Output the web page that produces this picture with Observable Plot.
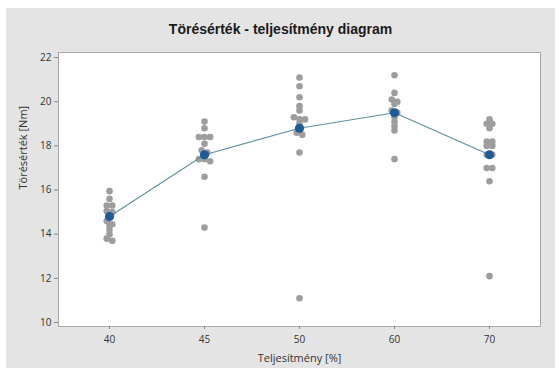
<!DOCTYPE html>
<html>
<head>
<meta charset="utf-8">
<script src="https://cdn.jsdelivr.net/npm/d3@7"></script>
<script src="https://cdn.jsdelivr.net/npm/@observablehq/plot@0.6"></script>
<style>
  html, body { margin: 0; padding: 0; background: #ffffff; }
  #panel { position: absolute; left: 6px; top: 8px; width: 549px; height: 360px; background: #e4e4e4; }
  #title { position: absolute; left: 0; top: 13px; width: 549px; text-align: center;
           font-family: "Liberation Sans", Arial, sans-serif; font-weight: bold; font-size: 14px; color: #1a1a1a; }
  #chart { position: absolute; left: 0; top: 36px; }
</style>
</head>
<body>
<div id="panel">
  <div id="title">Törésérték - teljesítmény diagram</div>
  <div id="chart"></div>
</div>
<script>
// Categories (Teljesítmény [%])
const categories = ["40", "45", "50", "60", "70"];
// Individual measured values (Törésérték [Nm]) per category
const v40 = [15.95, 15.6, 15.3, 15.3, 15.05, 15.0, 14.8, 14.6, 14.45, 14.4, 14.2, 14.0, 13.8, 13.7];
const v45 = [19.1, 18.8, 18.4, 18.4, 18.4, 18.1, 17.8, 17.7, 17.6, 17.4, 17.4, 17.3, 16.6, 14.3];
const v50 = [21.1, 20.7, 20.2, 19.8, 19.6, 19.3, 19.2, 19.2, 19.0, 18.6, 18.5, 17.7, 11.1];
const v60 = [21.2, 20.4, 20.1, 20.0, 19.9, 19.6, 19.5, 19.3, 19.1, 18.9, 18.7, 17.4];
const v70 = [19.2, 19.0, 19.0, 18.8, 18.2, 18.2, 18.0, 18.0, 17.6, 17.6, 17.0, 17.0, 16.4, 12.1];
// Means per category
const means = [14.8, 17.6, 18.8, 19.5, 17.6];
// Y tick labels
const yTicks = [10, 12, 14, 16, 18, 20, 22];

const groups = [v40, v45, v50, v60, v70];
const points = groups.flatMap((vals, i) => vals.map(v => ({power: categories[i], value: v})));
const meanData = categories.map((c, i) => ({power: c, mean: means[i]}));

// Minitab-like side-by-side placement of overlapping dots within a category
function dodgeRender(index, scales, values, dims, ctx, next) {
  const X = Float64Array.from(values.x), Y = values.y;
  const tol = 3.5, step = 5.6;
  const cols = d3.group(Array.from(index), i => Math.round(X[i]));
  for (const [, idx] of cols) {
    idx.sort((a, b) => Y[a] - Y[b]);
    const rows = [];
    let row = [];
    for (const i of idx) {
      if (row.length && Y[i] - Y[row[0]] > tol) { rows.push(row); row = []; }
      row.push(i);
    }
    if (row.length) rows.push(row);
    for (const r of rows) r.forEach((i, k) => { X[i] = X[i] + (k - (r.length - 1) / 2) * step; });
  }
  return next(index, scales, {...values, x: X}, dims, ctx);
}

const chart = Plot.plot({
  width: 549,
  height: 324,
  marginLeft: 52,
  marginRight: 15,
  marginTop: 8,
  marginBottom: 42,
  style: {background: "transparent", fontFamily: "'Open Sans', 'Noto Sans', sans-serif", fontSize: "10px", color: "#333"},
  x: {type: "point", domain: categories, padding: 0.52},
  y: {domain: [9.82, 22.23]},
  marks: [
    Plot.frame({fill: "white", stroke: "#a9a9a9"}),
    Plot.axisY({ticks: yTicks, tickSize: 4, tickPadding: 3, label: null, stroke: "#888"}),
    Plot.axisX({tickSize: 3, tickPadding: 6, label: null, stroke: "#888"}),
    Plot.dot(points, {x: "power", y: "value", r: 3.3, fill: "#9d9d9d", stroke: "none", render: dodgeRender}),
    Plot.line(meanData, {x: "power", y: "mean", stroke: "#5e8fa0", strokeWidth: 1.1}),
    Plot.dot(meanData, {x: "power", y: "mean", r: 4.6, fill: "#1f5b98", stroke: "none"}),
    Plot.text(["Törésérték [Nm]"], {frameAnchor: "left", dx: -35, rotate: -90, fontSize: 11, fill: "#333"}),
    Plot.text(["Teljesítmény [%]"], {frameAnchor: "bottom", dy: 35, fontSize: 11, fill: "#333"})
  ]
});
document.getElementById("chart").appendChild(chart);
</script>
</body>
</html>
